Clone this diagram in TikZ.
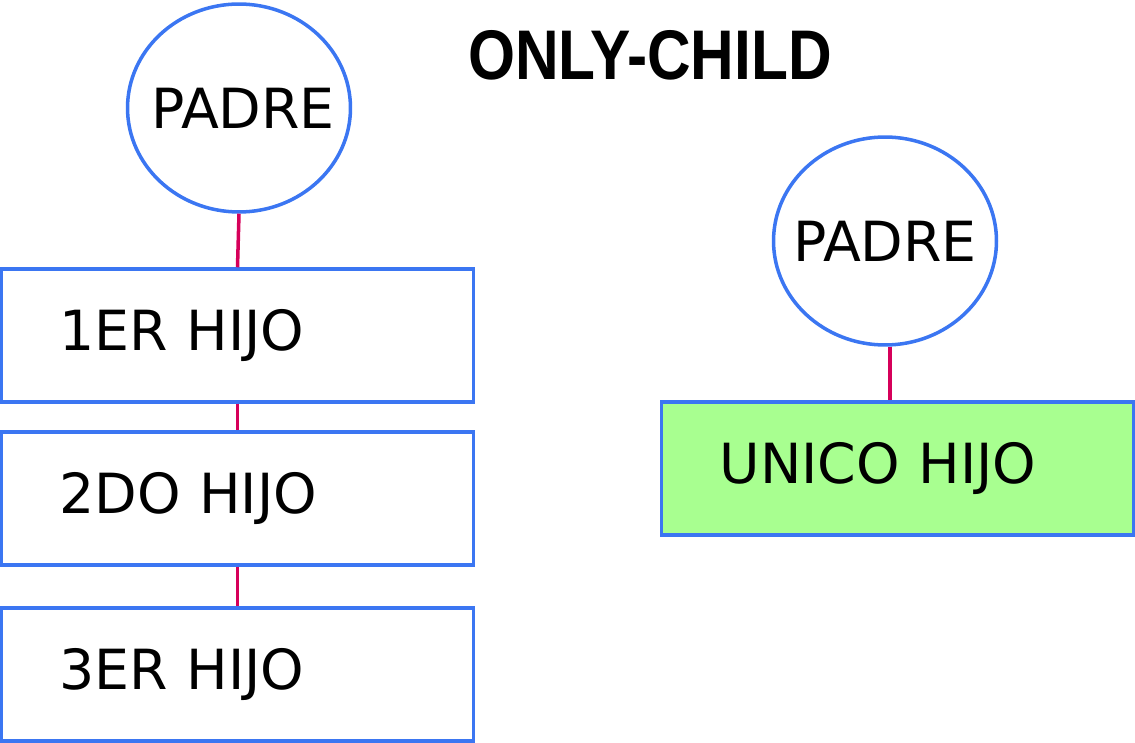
\documentclass[tikz,border=0pt]{standalone}
\usepackage{fontspec}
\usepackage{graphicx}
\setmainfont{DejaVu Sans}
\newfontfamily\titlefont{Liberation Sans}
\usetikzlibrary{positioning,shapes.geometric}

\definecolor{borde}{HTML}{3B76F2}
\definecolor{enlace}{HTML}{D6005A}
\definecolor{verde}{HTML}{A8FF90}

\begin{document}
\begin{tikzpicture}[x=0.02cm, y=-0.02cm,
  padre/.style={ellipse, draw=borde, line width=2pt, minimum width=4.46cm, minimum height=4.16cm, inner sep=0pt, font=\fontsize{31.5}{36}\selectfont},
  hijo/.style={rectangle, draw=borde, line width=2pt, minimum height=2.66cm, text width=7.12cm, inner xsep=1.16cm, align=left, font=\fontsize{31.5}{36}\selectfont},
  enlace/.style={draw=enlace, line width=2pt}]
\useasboundingbox (0,0) rectangle (1135,743);

% Titulo
\node[font=\titlefont\bfseries\fontsize{40}{48}\selectfont] (titulo) at (650,55) {\scalebox{0.86}[1]{ONLY-CHILD}};

% Padre con tres hijos
\node[padre] (P1) at (239,108) {\makebox[0pt]{\hspace{0.16cm}PADRE}};
\node[hijo] (H1) at (237.5,335.5) {1ER HIJO};
\node[hijo] (H2) at (237.5,498.5) {2DO HIJO};
\node[hijo] (H3) at (237.5,674.5) {3ER HIJO};

\draw[enlace] (P1.south) -- (H1.north);
\draw[enlace] (H1.south) -- (H2.north);
\draw[enlace] (H2.south) -- (H3.north);

% Padre con unico hijo
\node[padre] (P2) at (885,241) {\makebox[0pt]{PADRE}};
\node[hijo, fill=verde] (U1) at (897.5,468.5) {UNICO HIJO};

\coordinate (eje) at (890,0);
\draw[enlace] (P2.south -| eje) -- (U1.north -| eje);

\end{tikzpicture}
\end{document}
